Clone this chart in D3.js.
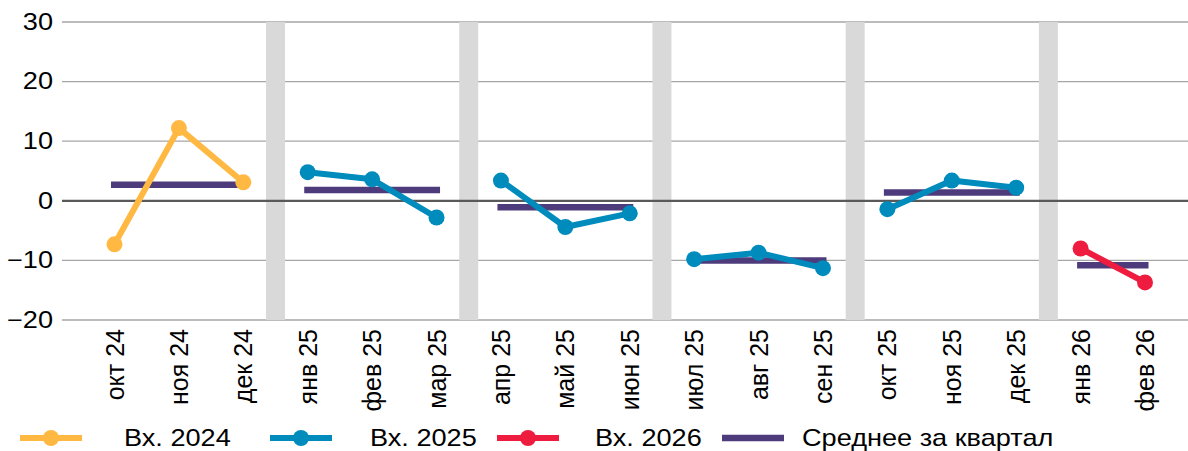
<!DOCTYPE html>
<html lang="ru">
<head>
<meta charset="UTF-8">
<title>Chart</title>
<style>
  body { margin: 0; background: #fff; }
  text { font-family: "Liberation Sans", Arial, sans-serif; fill: #000; }
</style>
</head>
<body>
<svg></svg>
<script src="https://d3js.org/d3.v7.min.js"></script>
<script>
// months
var months = ["окт 24","ноя 24","дек 24","янв 25","фев 25","мар 25","апр 25","май 25","июн 25",
              "июл 25","авг 25","сен 25","окт 25","ноя 25","дек 25","янв 26","фев 26"];
// series values
var vals2024 = [-7.3, 12.2, 3.1];
var vals2025 = [4.8, 3.6, -2.8, 3.4, -4.4, -2.1, -9.8, -8.7, -11.3, -1.4, 3.4, 2.2];
var vals2026 = [-8.0, -13.7];
// quarters: first/last month index and average
var qStart = [0, 3, 6, 9, 12, 15];
var qEnd   = [2, 5, 8, 11, 14, 16];
var qAvg   = [2.7, 1.8, -1.1, -10.0, 1.4, -10.8];
var yTicks = [30, 20, 10, 0, -10, -20];
var legendNames = ["Вх. 2024", "Вх. 2025", "Вх. 2026", "Среднее за квартал"];

var W = 1188, H = 451;
var plot = {left: 62, right: 1188, top: 22, bottom: 320};
var colors = {y24: "#ffb943", y25: "#008bbd", y26: "#ee1c3e", avg: "#4e3b7b"};
var stretch = 1.18; // text in the original is a bit wide

var svg = d3.select("svg").attr("width", W).attr("height", H);

var x = d3.scalePoint().domain(d3.range(months.length)).range([114.5, 1145]);
var y = d3.scaleLinear().domain([-20, 30]).range([plot.bottom, plot.top]);

// gridlines
svg.append("g").selectAll("line")
  .data(yTicks.filter(function(d){ return d !== 0; }))
  .enter().append("line")
  .attr("x1", plot.left).attr("x2", plot.right)
  .attr("y1", function(d){ return y(d); }).attr("y2", function(d){ return y(d); })
  .attr("stroke", "#a6a6a6").attr("stroke-width", 1.3);

// quarter separators
var seps = qEnd.slice(0, -1);
svg.append("g").selectAll("rect")
  .data(seps)
  .enter().append("rect")
  .attr("x", function(d){ return (x(d) + x(d + 1)) / 2 - 9.5; })
  .attr("y", plot.top)
  .attr("width", 19)
  .attr("height", plot.bottom - plot.top)
  .attr("fill", "#d9d9d9");

// zero line
svg.append("line")
  .attr("x1", plot.left).attr("x2", plot.right)
  .attr("y1", y(0)).attr("y2", y(0))
  .attr("stroke", "#595959").attr("stroke-width", 2.2);

// y axis labels
var yAxis = d3.axisLeft(y).tickValues(yTicks).tickSize(0).tickPadding(0)
  .tickFormat(function(d){ return d < 0 ? "\u2212" + Math.abs(d) : d; });
var ya = svg.append("g").attr("transform", "translate(53,0)").call(yAxis);
ya.select(".domain").remove();
ya.selectAll("text").attr("font-size", "23px").attr("font-family", null).attr("fill", "#000")
  .attr("transform", "scale(" + stretch + ",1)");

// x axis labels (rotated)
svg.append("g").selectAll("text")
  .data(months)
  .enter().append("text")
  .attr("transform", function(d, i){ return "translate(" + x(i) + ",329) rotate(-90)"; })
  .attr("text-anchor", "end")
  .attr("dy", "0.36em")
  .attr("font-size", "25px")
  .text(function(d){ return d; });

// quarterly averages
svg.append("g").selectAll("line")
  .data(qAvg)
  .enter().append("line")
  .attr("x1", function(d, i){ return x(qStart[i]) - 3.5; })
  .attr("x2", function(d, i){ return x(qEnd[i]) + 3.5; })
  .attr("y1", function(d){ return y(d); })
  .attr("y2", function(d){ return y(d); })
  .attr("stroke", colors.avg).attr("stroke-width", 6.5);

// series segments, broken per quarter
function drawSeries(values, offset, color) {
  var pts = values.map(function(v, i){ return {i: i + offset, v: v}; });
  var groups = d3.groups(pts, function(p){ return Math.floor(p.i / 3); });
  var line = d3.line().x(function(p){ return x(p.i); }).y(function(p){ return y(p.v); });
  var g = svg.append("g");
  groups.forEach(function(gr){
    g.append("path").attr("d", line(gr[1]))
      .attr("fill", "none").attr("stroke", color).attr("stroke-width", 6)
      .attr("stroke-linejoin", "round");
  });
  g.selectAll("circle").data(pts).enter().append("circle")
    .attr("cx", function(p){ return x(p.i); })
    .attr("cy", function(p){ return y(p.v); })
    .attr("r", 8).attr("fill", color);
}
drawSeries(vals2024, 0, colors.y24);
drawSeries(vals2025, 3, colors.y25);
drawSeries(vals2026, 15, colors.y26);

// legend
var legColors = [colors.y24, colors.y25, colors.y26, colors.avg];
var legX = [20, 270, 497, 722];
var leg = svg.append("g").selectAll("g")
  .data(legendNames)
  .enter().append("g")
  .attr("transform", function(d, i){ return "translate(" + legX[i] + ",438)"; });
leg.append("line")
  .attr("x1", 0).attr("x2", 62).attr("y1", 0).attr("y2", 0)
  .attr("stroke", function(d, i){ return legColors[i]; })
  .attr("stroke-width", function(d, i){ return i === 3 ? 6.5 : 6; });
leg.filter(function(d, i){ return i < 3; }).append("circle")
  .attr("cx", 31).attr("cy", 0).attr("r", 8)
  .attr("fill", function(d, i){ return legColors[i]; });
leg.append("text")
  .attr("transform", function(d, i){
    return "translate(" + (i === 3 ? 80 : [104, 100, 98][i]) + ",0) scale(" + stretch + ",1)";
  })
  .attr("dy", "0.36em")
  .attr("font-size", "23px")
  .text(function(d){ return d; });
</script>
</body>
</html>
